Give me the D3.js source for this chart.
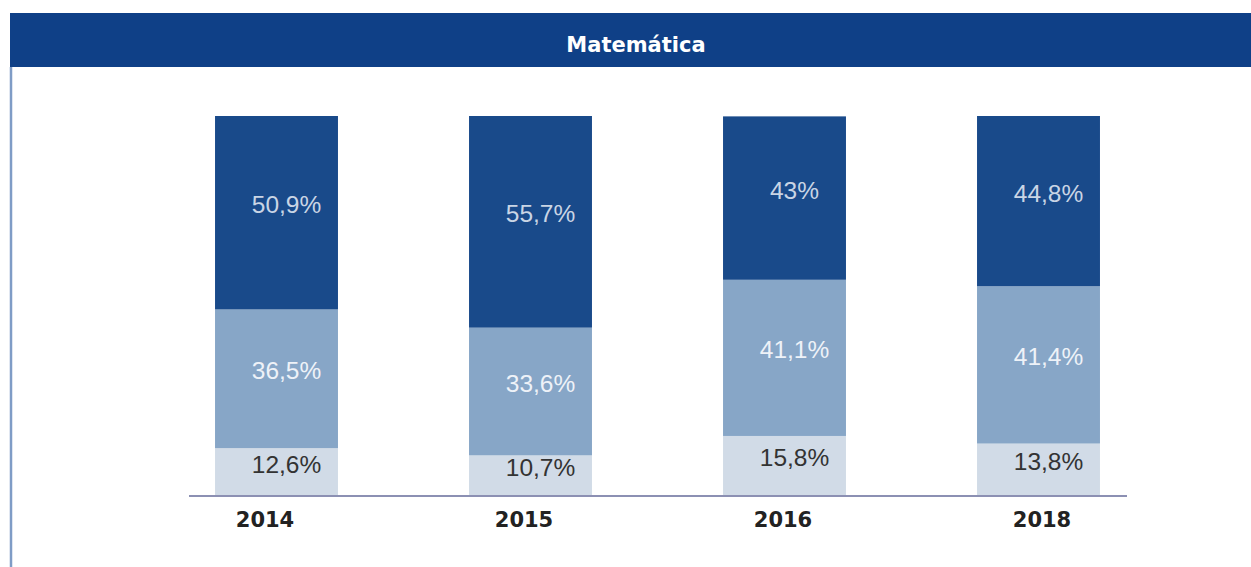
<!DOCTYPE html>
<html>
<head>
<meta charset="utf-8">
<script src="https://cdn.jsdelivr.net/npm/d3@7"></script>
<style>
    html, body { margin: 0; padding: 0; background: #fff; }
    svg { display: block; }
</style>
</head>
<body>
<div id="chart"></div>
<script>
// Chart data
const years = ["2014", "2015", "2016", "2018"];
const lowValues = [12.6, 10.7, 15.8, 13.8];
const midValues = [36.5, 33.6, 41.1, 41.4];
const highValues = [50.9, 55.7, 43, 44.8];
const labelText = {
    low: ["12,6%", "10,7%", "15,8%", "13,8%"],
    mid: ["36,5%", "33,6%", "41,1%", "41,4%"],
    high: ["50,9%", "55,7%", "43%", "44,8%"]
};

const width = 1251;
const height = 567;

const svg = d3.select("#chart").append("svg")
    .attr("width", width)
    .attr("height", height);

// Frame: title band and left border
svg.append("rect")
    .attr("x", 10).attr("y", 13)
    .attr("width", width - 10).attr("height", 54)
    .attr("fill", "#0f4087");

svg.append("line")
    .attr("x1", 11).attr("x2", 11)
    .attr("y1", 67).attr("y2", height)
    .attr("stroke", "#7f9cc6")
    .attr("stroke-width", 2.5);

svg.append("text")
    .attr("x", 636).attr("y", 52)
    .attr("text-anchor", "middle")
    .attr("fill", "#ffffff")
    .attr("font-family", "DejaVu Sans")
    .attr("font-weight", "bold")
    .attr("font-size", 21)
    .text("Matemática");

// Scales
const x = d3.scaleBand()
    .domain(years)
    .range([149.5, 1165.5])
    .paddingInner(0.516)
    .paddingOuter(0.258);

const y = d3.scaleLinear()
    .domain([0, 100])
    .range([496, 116]);

// Stack the three segments, bottom to top
const rows = years.map((yr, i) => ({
    year: yr,
    low: lowValues[i],
    mid: midValues[i],
    high: highValues[i],
    i: i
}));

const keys = ["low", "mid", "high"];
const fills = { low: "#d1dbe7", mid: "#87a6c7", high: "#194a8a" };
const textFills = { low: "#333333", mid: "#eef2f8", high: "#c9d5e5" };

const series = d3.stack().keys(keys)(rows);

const layer = svg.append("g")
    .selectAll("g")
    .data(series)
    .join("g")
    .attr("fill", d => fills[d.key]);

layer.selectAll("rect")
    .data(d => d)
    .join("rect")
    .attr("x", d => x(d.data.year))
    .attr("y", d => y(d[1]))
    .attr("width", x.bandwidth())
    .attr("height", d => y(d[0]) - y(d[1]));

// Segment labels
series.forEach(s => {
    svg.append("g")
        .selectAll("text")
        .data(s)
        .join("text")
        .attr("x", d => x(d.data.year) + x.bandwidth() / 2 + 10)
        .attr("y", d => (y(d[0]) + y(d[1])) / 2 - 8)
        .attr("text-anchor", "middle")
        .attr("dominant-baseline", "central")
        .attr("font-family", "Liberation Sans, Arial, sans-serif")
        .attr("font-size", 24.5)
        .attr("fill", textFills[s.key])
        .text(d => labelText[s.key][d.data.i]);
});

// Baseline
svg.append("line")
    .attr("x1", 189).attr("x2", 1127)
    .attr("y1", y(0)).attr("y2", y(0))
    .attr("stroke", "#8c90b3")
    .attr("stroke-width", 2);

// Year labels (sit slightly off the bar centres in the original)
const xLabel = d3.scalePoint()
    .domain(years)
    .range([265, 1042]);

svg.append("g")
    .selectAll("text")
    .data(years)
    .join("text")
    .attr("x", d => xLabel(d))
    .attr("y", 527)
    .attr("text-anchor", "middle")
    .attr("font-family", "DejaVu Sans")
    .attr("font-weight", "bold")
    .attr("font-size", 21)
    .attr("fill", "#222222")
    .text(d => d);
</script>
</body>
</html>
